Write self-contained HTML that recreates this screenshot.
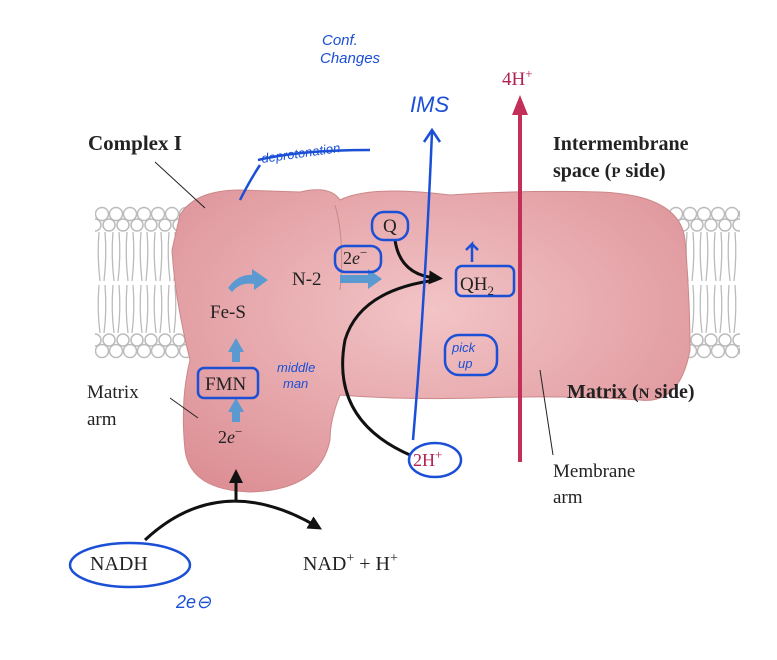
<!DOCTYPE html>
<html><head><style>
body{margin:0;background:#fff;}
svg{display:block;}
.t{font-family:"Liberation Serif",serif;fill:#222;}
.b{font-weight:bold;}
.h{font-family:"Liberation Sans",sans-serif;fill:#1a4fd6;font-style:italic;}
</style></head><body>
<svg width="777" height="660" viewBox="0 0 777 660">
<defs>
<pattern id="lip" x="95" y="205" width="28" height="155" patternUnits="userSpaceOnUse">
<g fill="#fff" stroke="#bbb" stroke-width="1.5">
<circle cx="7" cy="9" r="6.5"/><circle cx="21" cy="9" r="6.5"/>
<circle cx="14" cy="20" r="6"/><circle cx="0" cy="20" r="6"/><circle cx="28" cy="20" r="6"/>
<circle cx="7" cy="146" r="6.5"/><circle cx="21" cy="146" r="6.5"/>
<circle cx="14" cy="135" r="6"/><circle cx="0" cy="135" r="6"/><circle cx="28" cy="135" r="6"/>
</g>
<path d="M4 27 Q2 50 5 76 M10 27 Q12 50 9 76 M18 27 Q16 50 19 76 M24 27 Q26 50 23 76 M4 80 Q2 105 5 128 M10 80 Q12 105 9 128 M18 80 Q16 105 19 128 M24 80 Q26 105 23 128" stroke="#bbb" fill="none" stroke-width="1.3"/>
</pattern>
<radialGradient id="pk" cx="50%" cy="40%" r="70%"><stop offset="0" stop-color="#f2c4c6"/><stop offset="1" stop-color="#dc9096"/></radialGradient>
<marker id="ar" markerUnits="userSpaceOnUse" markerWidth="14" markerHeight="14" refX="7" refY="7" orient="auto"><path d="M0 0L14 7L0 14Z" fill="#111"/></marker>
</defs>
<rect x="95" y="205" width="645" height="155" fill="url(#lip)"/>
<path d="M180 215 Q195 190 240 190 L300 192 Q330 185 340 200 Q370 185 450 195 Q520 190 600 192 Q680 195 685 240 Q690 300 690 350 Q680 405 640 400 Q560 395 480 398 Q400 400 340 395 Q330 420 330 440 Q320 490 250 492 Q190 490 185 450 Q180 400 190 360 Q175 300 172 250 Z" fill="url(#pk)" stroke="#c88" stroke-width="1"/>
<path d="M335 205 Q345 240 340 290" stroke="#c88" fill="none"/>
<text class="t b" x="88" y="150" font-size="21">Complex I</text>
<line x1="155" y1="162" x2="205" y2="208" stroke="#222"/>
<text class="t b" x="553" y="150" font-size="20">Intermembrane</text>
<text class="t b" x="553" y="177" font-size="20">space (<tspan font-size="15">P</tspan> side)</text>
<text class="t b" x="567" y="398" font-size="20">Matrix (<tspan font-size="15">N</tspan> side)</text>
<text class="t" x="87" y="398" font-size="19">Matrix</text>
<text class="t" x="87" y="425" font-size="19">arm</text>
<line x1="170" y1="398" x2="198" y2="418" stroke="#222"/>
<text class="t" x="553" y="477" font-size="19">Membrane</text>
<text class="t" x="553" y="503" font-size="19">arm</text>
<line x1="540" y1="370" x2="553" y2="455" stroke="#222"/>
<text class="t" x="210" y="318" font-size="19">Fe-S</text>
<text class="t" x="292" y="285" font-size="19">N-2</text>
<text class="t" x="205" y="390" font-size="19">FMN</text>
<text class="t" x="218" y="443" font-size="18">2<tspan font-style="italic">e</tspan><tspan dy="-7" font-size="13">−</tspan></text>
<text class="t" x="343" y="264" font-size="18">2<tspan font-style="italic">e</tspan><tspan dy="-7" font-size="13">−</tspan></text>
<text class="t" x="383" y="232" font-size="19">Q</text>
<text class="t" x="460" y="290" font-size="19">QH<tspan dy="5" font-size="13">2</tspan></text>
<text class="t" x="413" y="466" font-size="18" style="fill:#b02050">2H<tspan dy="-7" font-size="13">+</tspan></text>
<text class="t" x="502" y="85" font-size="19" style="fill:#b02050">4H<tspan dy="-7" font-size="13">+</tspan></text>
<text class="t" x="90" y="570" font-size="20">NADH</text>
<text class="t" x="303" y="570" font-size="20">NAD<tspan dy="-8" font-size="14">+</tspan><tspan dy="8"> + H</tspan><tspan dy="-8" font-size="14">+</tspan></text>
<g fill="#5a9ad0"><path d="M228 412l8-14 8 14h-4v10h-8v-10z"/><path d="M228 352l8-14 8 14h-4v10h-8v-10z"/><path d="M228 288 Q238 274 252 275 l0-6 16 11 -14 10 0-6 Q240 282 232 292z"/><path d="M340 275h28v-6l14 10-14 10v-6h-28z"/></g>
<line x1="520" y1="462" x2="520" y2="110" stroke="#c2305a" stroke-width="4"/>
<path d="M512 115L520 95L528 115Z" fill="#c2305a"/>
<path d="M145 540 Q220 470 316 526" stroke="#111" stroke-width="3" fill="none" marker-end="url(#ar)"/>
<path d="M236 500 L236 476" stroke="#111" stroke-width="3" marker-end="url(#ar)"/>
<path d="M395 240 Q400 275 436 278" stroke="#111" stroke-width="3" fill="none" marker-end="url(#ar)"/>
<path d="M410 455 Q330 420 345 340 Q360 290 436 280" stroke="#111" stroke-width="3" fill="none"/>
<g stroke="#1a4fd6" stroke-width="2.5" fill="none">
<rect x="372" y="212" width="36" height="28" rx="12"/>
<rect x="335" y="246" width="46" height="26" rx="10"/>
<rect x="456" y="266" width="58" height="30" rx="6"/>
<rect x="198" y="368" width="60" height="30" rx="6"/>
<ellipse cx="435" cy="460" rx="26" ry="17"/>
<ellipse cx="130" cy="565" rx="60" ry="22"/>
<rect x="445" y="335" width="52" height="40" rx="14"/>
<path d="M413 440 Q425 300 432 132"/><path d="M424 142l8-12 8 12"/>
<path d="M472 262 v-18 l-6 6 M472 244 l6 6"/>
<path d="M240 200 Q250 180 260 165"/>
<path d="M258 160 Q300 150 370 150"/>
</g>
<text class="h" x="322" y="45" font-size="15">Conf.</text>
<text class="h" x="320" y="63" font-size="15">Changes</text>
<text class="h" x="410" y="112" font-size="22">IMS</text>
<text class="h" x="262" y="163" font-size="13" transform="rotate(-8 262 163)">deprotonation</text>
<text class="h" x="277" y="372" font-size="13">middle</text>
<text class="h" x="283" y="388" font-size="13">man</text>
<text class="h" x="452" y="352" font-size="13">pick</text>
<text class="h" x="458" y="368" font-size="13">up</text>
<text class="h" x="176" y="608" font-size="18">2e⊖</text>
</svg>
</body></html>
